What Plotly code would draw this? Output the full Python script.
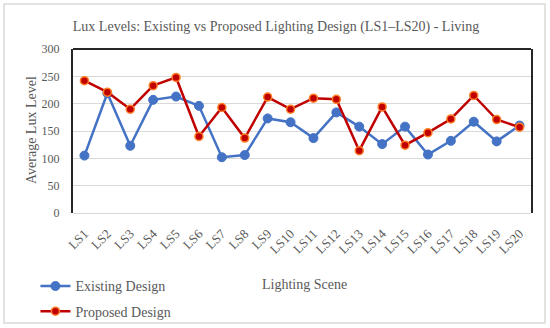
import plotly.graph_objects as go

scenes = [f"LS{i}" for i in range(1, 21)]
existing = [105, 219, 123, 207, 213, 196, 102, 106, 173, 166,
            137, 184, 158, 126, 158, 107, 132, 167, 131, 160]
proposed = [242, 221, 190, 233, 248, 140, 193, 137, 212, 190,
            210, 208, 114, 194, 124, 147, 172, 215, 171, 157]
y_ticks = [0, 50, 100, 150, 200, 250, 300]

FONT = "Liberation Serif"
GRAY = "#595959"

fig = go.Figure()
fig.add_trace(go.Scatter(
    x=scenes, y=existing, mode="lines+markers", name="Existing Design",
    legendgroup="a",
    line=dict(color="#4472C4", width=2.5),
    marker=dict(color="#4472C4", size=9, line=dict(color="#4472C4", width=1)),
))
fig.add_trace(go.Scatter(
    x=scenes, y=proposed, mode="lines+markers", name="Proposed Design",
    legendgroup="b",
    line=dict(color="#C00000", width=2.5),
    marker=dict(color="#C00000", size=8, line=dict(color="#FF7F27", width=1.5)),
))

fig.update_layout(
    width=550, height=328,
    margin=dict(l=73, r=19, t=49, b=115, autoexpand=False),
    paper_bgcolor="white", plot_bgcolor="white",
    font=dict(family=FONT, color=GRAY, size=13),
    title=dict(text="Lux Levels: Existing vs Proposed Lighting Design (LS1\u2013LS20) - Living",
               x=276 / 550, xanchor="center", y=1 - 26 / 328, yanchor="middle",
               font=dict(family=FONT, size=14, color=GRAY)),
    showlegend=True,
    legend=dict(x=-0.082, xanchor="left", y=-0.35, yanchor="top",
                font=dict(family=FONT, size=14, color=GRAY),
                tracegroupgap=4, bgcolor="rgba(0,0,0,0)"),
)
fig.update_xaxes(
    type="category", range=[-0.5, 19.5], tickangle=-45,
    showgrid=False, showline=False,
    ticks="outside", ticklen=7, tickcolor="rgba(0,0,0,0)",
    tickfont=dict(family=FONT, size=13, color=GRAY),
)
fig.update_yaxes(
    range=[0, 300], tickvals=y_ticks, showgrid=True, gridcolor="#d9d9d9", gridwidth=1,
    zeroline=True, zerolinecolor="#d9d9d9", zerolinewidth=1,
    showline=True, linecolor="#262626", linewidth=2, mirror=True,
    ticks="outside", ticklen=9, tickcolor="rgba(0,0,0,0)",
    tickfont=dict(family=FONT, size=12, color=GRAY),
)

# plot frame top line and outer border
fig.add_shape(type="line", xref="paper", yref="paper", x0=0, x1=1, y0=1, y1=1,
              line=dict(color="#262626", width=2))
fig.add_shape(type="rect", xref="paper", yref="paper",
              x0=(4 - 73) / 458, x1=(545 - 73) / 458,
              y0=(213 - 323) / 164, y1=(213 - 4) / 164,
              line=dict(color="#d9d9d9", width=1.5))

fig.add_annotation(text="Average Lux Level", xref="paper", yref="paper",
                   x=(31 - 73) / 458, y=(213 - 130) / 164, textangle=-90,
                   showarrow=False, xanchor="center", yanchor="middle",
                   font=dict(family=FONT, size=14, color=GRAY))
fig.add_annotation(text="Lighting Scene", xref="paper", yref="paper",
                   x=(304 - 73) / 458, y=(213 - 284) / 164,
                   showarrow=False, xanchor="center", yanchor="middle",
                   font=dict(family=FONT, size=14, color=GRAY))

fig.write_html("out.html", config={"displayModeBar": False},
               post_script="document.body.style.margin='0';document.body.style.overflow='hidden';")
